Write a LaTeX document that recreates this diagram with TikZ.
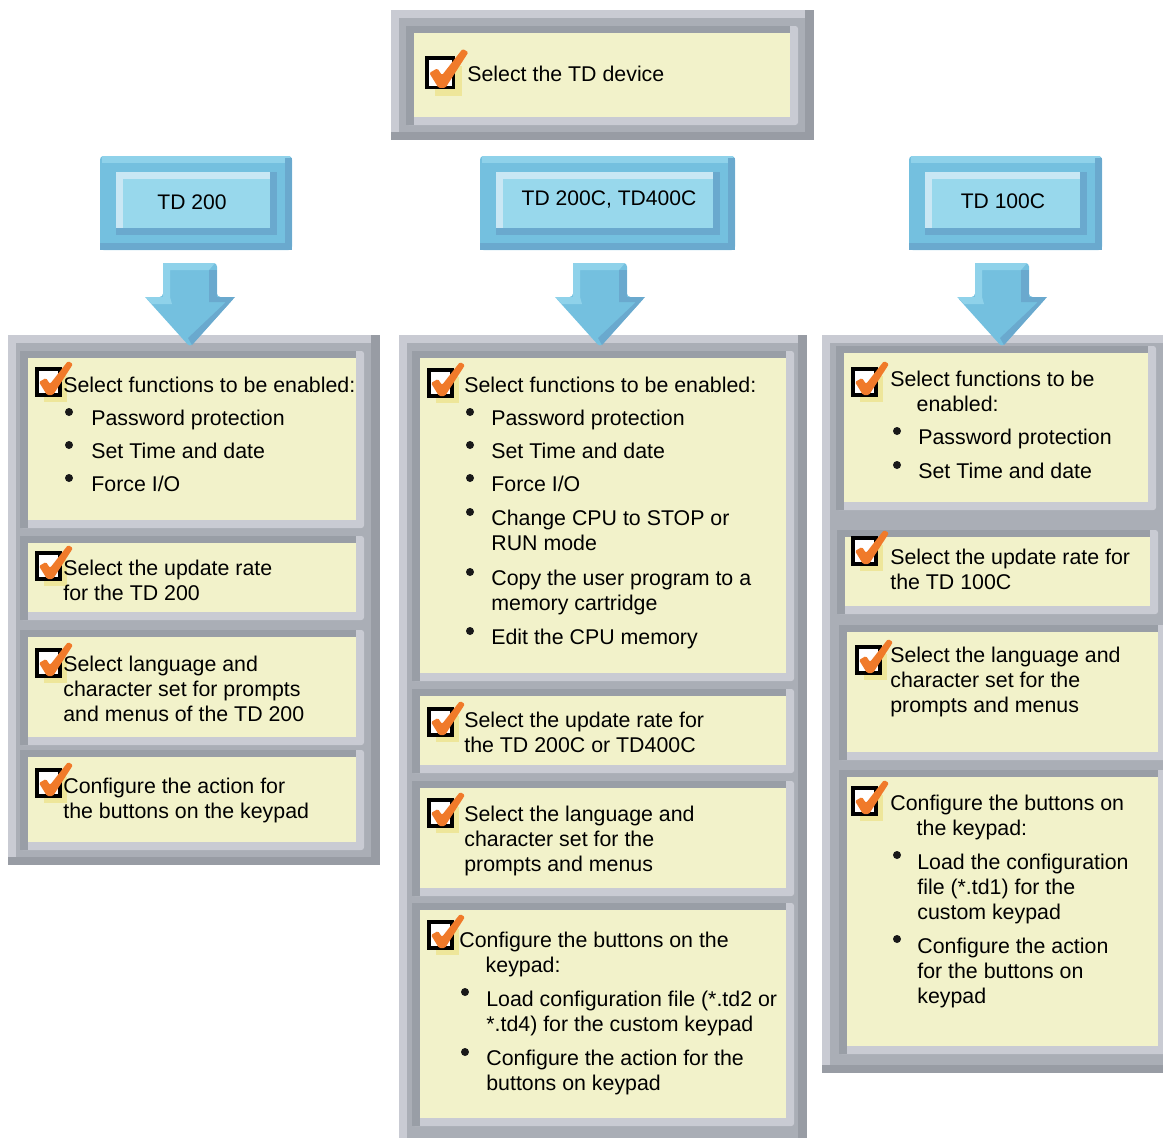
\documentclass[tikz,border=0pt]{standalone}
\usepackage{fontspec}
\setmainfont{Liberation Sans}
\definecolor{panelfill}{HTML}{F2F2CA}
\definecolor{paneldark}{HTML}{999EA6}
\definecolor{panellight}{HTML}{C9CBD3}
\definecolor{framemid}{HTML}{AAAEB6}
\definecolor{framedark}{HTML}{989CA4}
\definecolor{bluebody}{HTML}{74C0DF}
\definecolor{bluetop}{HTML}{8FD2EA}
\definecolor{bluedark}{HTML}{6AA9CE}
\definecolor{bluefill}{HTML}{98D8EC}
\definecolor{bluepale}{HTML}{C9E7F4}
\definecolor{tickorange}{HTML}{F07A2A}
\definecolor{tickshadow}{HTML}{EEE69A}
\tikzset{
  steptext/.style={font=\fontsize{12.15}{14.2}\selectfont, align=left, inner sep=0pt, anchor=base west},
  boxtext/.style={font=\fontsize{12}{14.2}\selectfont, inner sep=0pt},
  dot/.style={fill=black!90},
  checkbox/.pic={
    \fill[tickshadow] (7,7) rectangle (30,33);
    \filldraw[fill=white, draw=black, line width=1.8pt] (0,0) rectangle (23,26);
    \fill[tickorange, rounded corners=0.8pt] (2,13) -- (9,9) -- (13,15) -- (31,-8) -- (36,-5) -- (16,26) -- (10,26) -- cycle;
  },
}

\begin{document}
\begin{tikzpicture}[x=0.02cm, y=-0.02cm]
\useasboundingbox (0,0) rectangle (1163,1137);
\clip (0,0) rectangle (1163,1137);
% outer frames
\foreach \xa/\ya/\xb/\yb in {391/10/814/140, 8/335/380/865, 399/335/807/1150, 822/335/1175/1073} {
  \fill[framemid] (\xa,\ya) rectangle (\xb,\yb);
  \fill[panellight] (\xa,\ya) rectangle (\xa+8,\yb);
  \fill[panellight] (\xa,\ya) rectangle (\xb,\ya+8);
  \fill[framedark] (\xb-9,\ya) rectangle (\xb,\yb);
  \fill[framedark] (\xa,\yb-8) rectangle (\xb,\yb);
}
% yellow panels
\foreach \xa/\ya/\xb/\yb in {414/33/790/117,
    28/358/356/520, 28/543/356/612, 28/637/356/737, 28/757/356/842,
    420/358/786/673, 420/696/786/765, 420/788/786/888, 420/910/786/1118,
    844/353/1148/502, 845/537/1150/606, 847/632/1158/752, 847/777/1158/1046} {
  \fill[panellight, rounded corners=1.5pt] (\xa-8,\ya-7) rectangle (\xb+8,\yb+8);
  \fill[paneldark] (\xa-8,\ya-7) rectangle (\xb,\ya);
  \fill[paneldark] (\xa-8,\ya-7) rectangle (\xa,\yb+8);
  \fill[panelfill] (\xa,\ya) rectangle (\xb,\yb);
}
% blue device boxes
\foreach \xa/\xb in {100/292, 480/735, 909/1102} {
  \fill[bluebody, rounded corners=2pt] (\xa,156) rectangle (\xb,250);
  \fill[bluetop] (\xa+2,156) rectangle (\xb-2,163);
  \fill[bluedark] (\xb-7,158) rectangle (\xb,250);
  \fill[bluedark] (\xa,243) rectangle (\xb,250);
  \fill[bluedark] (\xa+16,172) rectangle (\xb-15,235);
  \fill[bluepale] (\xa+16,172) rectangle (\xb-22,228);
  \fill[bluefill] (\xa+23,179) rectangle (\xb-22,228);
}
% arrows
\foreach \cx in {190,600,1002} {
  \fill[bluebody, rounded corners=2pt] (\cx-27,263) -- (\cx+27,263) -- (\cx+27,297) -- (\cx+45,297) -- (\cx,347) -- (\cx-45,297) -- (\cx-27,297) -- cycle;
  \fill[bluetop] (\cx-27,263) -- (\cx+25,263) -- (\cx+19,270) -- (\cx-20,270) -- (\cx-20,297) -- (\cx-27,297) -- cycle;
  \fill[bluetop] (\cx-45,297) -- (\cx-20,297) -- (\cx-18,304) -- (\cx-38,304) -- cycle;
  \fill[bluedark] (\cx+19,270) rectangle (\cx+27,297);
  \fill[bluedark] (\cx+45,297) -- (\cx+2,345) -- (\cx-2,338) -- (\cx+36,302) -- (\cx+19,302) -- (\cx+19,297) -- cycle;
}
\node[boxtext] (td200) at (192,202) {TD 200};
\node[boxtext] (td200c) at (609,199) {TD 200C, TD400C};
\node[boxtext] (td100c) at (1003,201) {TD 100C};
% top box
\pic[scale=1.15] at (427,58) {checkbox};
\node[steptext] (device) at (467,81) {Select the TD device};
% TD 200 column
\pic at (37,369) {checkbox};
\node[steptext] (a1) at (63,392) {Select functions to be enabled:};
\fill[dot] (69,412) circle (4) (69,445) circle (4) (69,478) circle (4);
\node[steptext] (a1i) at (91,425) {Password protection};
\node[steptext] (a1ii) at (91,458) {Set Time and date};
\node[steptext] (a1iii) at (91,491) {Force I/O};
\pic at (37,553) {checkbox};
\node[steptext] (a2) at (63,600) {Select the update rate\\for the TD 200};
\pic at (37,650) {checkbox};
\node[steptext] (a3) at (63,721) {Select language and\\character set for prompts\\and menus of the TD 200};
\pic at (37,770) {checkbox};
\node[steptext] (a4) at (63,818) {Configure the action for\\the buttons on the keypad};
% TD 200C, TD400C column
\pic at (429,370) {checkbox};
\node[steptext] (b1) at (464,392) {Select functions to be enabled:};
\fill[dot] (470,412) circle (4) (470,445) circle (4) (470,478) circle (4)
  (470,512) circle (4) (470,572) circle (4) (470,631) circle (4);
\node[steptext] (b1i) at (491,425) {Password protection};
\node[steptext] (b1ii) at (491,458) {Set Time and date};
\node[steptext] (b1iii) at (491,491) {Force I/O};
\node[steptext] (b1iv) at (491,550) {Change CPU to STOP or\\RUN mode};
\node[steptext] (b1v) at (491,610) {Copy the user program to a\\memory cartridge};
\node[steptext] (b1vi) at (491,644) {Edit the CPU memory};
\pic at (429,709) {checkbox};
\node[steptext] (b2) at (464,752) {Select the update rate for\\the TD 200C or TD400C};
\pic at (429,800) {checkbox};
\node[steptext] (b3) at (464,871) {Select the language and\\character set for the\\prompts and menus};
\pic at (429,922) {checkbox};
\node[steptext] (b4) at (459,972) {Configure the buttons on the\\\hspace*{15pt}keypad:};
\fill[dot] (465,992) circle (4) (465,1052) circle (4);
\node[steptext] (b4i) at (486,1031) {Load configuration file (*.td2 or\\*.td4) for the custom keypad};
\node[steptext] (b4ii) at (486,1090) {Configure the action for the\\buttons on keypad};
% TD 100C column
\pic at (853,369) {checkbox};
\node[steptext] (c1) at (890,411) {Select functions to be\\\hspace*{15pt}enabled:};
\fill[dot] (897,431) circle (4) (897,465) circle (4);
\node[steptext] (c1i) at (918,444) {Password protection};
\node[steptext] (c1ii) at (918,478) {Set Time and date};
\pic at (853,538) {checkbox};
\node[steptext] (c2) at (890,589) {Select the update rate for\\the TD 100C};
\pic at (857,647) {checkbox};
\node[steptext] (c3) at (890,712) {Select the language and\\character set for the\\prompts and menus};
\pic at (853,788) {checkbox};
\node[steptext] (c4) at (890,835) {Configure the buttons on\\\hspace*{15pt}the keypad:};
\fill[dot] (897,855) circle (4) (897,939) circle (4);
\node[steptext] (c4i) at (917,919) {Load the configuration\\file (*.td1) for the\\custom keypad};
\node[steptext] (c4ii) at (917,1003) {Configure the action\\for the buttons on\\keypad};
\end{tikzpicture}
\end{document}
